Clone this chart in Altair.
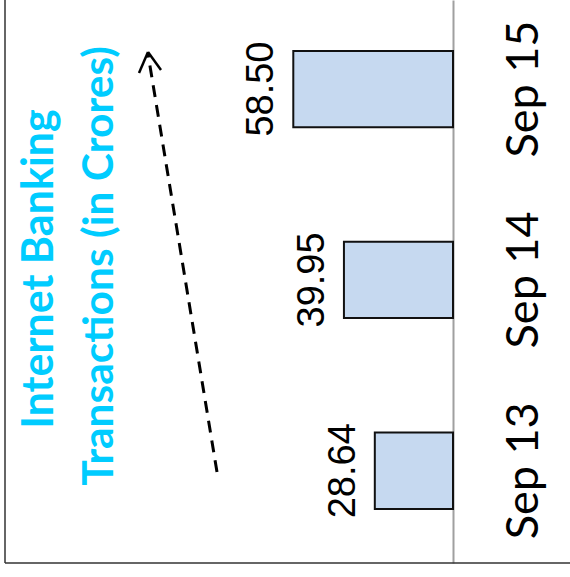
import altair as alt
import pandas as pd

# Internet banking transaction volumes (in crores)
months = ["Sep 13", "Sep 14", "Sep 15"]
transactions = [28.64, 39.95, 58.50]
value_labels = ["28.64", "39.95", "58.50"]
title_lines = ["Internet Banking", "Transactions (in Crores)"]

df = pd.DataFrame({"month": months, "value": transactions, "label": value_labels})

W, H = 448, 563
CYAN = "#00CCFF"

x_scale = alt.Scale(domain=[0, 164.1], reverse=True, nice=False, zero=True)
y_scale = alt.Scale(domain=months[::-1], paddingInner=0.6, paddingOuter=0.275, align=0.485)

base = alt.Chart(df)

bars = base.mark_bar(color="#C6D9F0", stroke="#111111", strokeWidth=2).encode(
    x=alt.X("value:Q", scale=x_scale, axis=None),
    y=alt.Y(
        "month:N",
        scale=y_scale,
        sort=months[::-1],
        axis=alt.Axis(
            orient="right",
            title=None,
            ticks=False,
            grid=False,
            domainColor="#A0A0A0",
            domainWidth=2,
            labelAngle=270,
            labelAlign="center",
            labelBaseline="top",
            labelFont="Lato",
            labelFontSize=45,
            labelColor="#000000",
            labelPadding=48,
        ),
    ),
)

values = base.mark_text(
    angle=270, align="center", baseline="alphabetic", dy=-20,
    font="Liberation Sans", fontSize=38, color="#000000",
).encode(
    x=alt.X("value:Q", scale=x_scale),
    y=alt.Y("month:N", scale=y_scale, sort=months[::-1]),
    text="label:N",
)

one = alt.Data(values=[{}])

# two-line heading, written vertically
heading1 = alt.Chart(one).mark_text(
    text=title_lines[0], angle=270, align="center", baseline="alphabetic",
    font="Lato", fontWeight="bold", fontSize=43, color=CYAN,
).encode(x=alt.value(48), y=alt.value(269))
heading2 = alt.Chart(one).mark_text(
    text=title_lines[1], angle=270, align="center", baseline="alphabetic",
    font="Lato", fontWeight="bold", fontSize=42.5, color=CYAN,
).encode(x=alt.value(108), y=alt.value(266))

# dashed trend arrow
arrow_shaft = alt.Chart(one).mark_rule(
    color="#000000", strokeWidth=3, strokeDash=[12, 8]
).encode(x=alt.value(212), y=alt.value(472), x2=alt.value(143), y2=alt.value(54))
arrow_left = alt.Chart(one).mark_rule(color="#000000", strokeWidth=2.5).encode(
    x=alt.value(134), y=alt.value(73), x2=alt.value(143), y2=alt.value(52)
)
arrow_right = alt.Chart(one).mark_rule(color="#000000", strokeWidth=2.5).encode(
    x=alt.value(156), y=alt.value(70), x2=alt.value(143), y2=alt.value(52)
)

# outer frame edges
frame_left = alt.Chart(one).mark_rule(color="#333333", strokeWidth=1.5).encode(
    x=alt.value(0), y=alt.value(0), y2=alt.value(H)
)
frame_bottom = alt.Chart(one).mark_rule(color="#333333", strokeWidth=1.5).encode(
    x=alt.value(0), x2=alt.value(565), y=alt.value(H)
)

chart = alt.layer(
    bars, values, heading1, heading2, arrow_shaft, arrow_left, arrow_right,
    frame_left, frame_bottom,
).properties(
    width=W,
    height=H,
    autosize=alt.AutoSizeParams(type="none"),
    padding={"left": 5, "top": 0, "right": 117, "bottom": 14},
).configure_view(stroke=None)

chart.save("out.html", embed_options={"renderer": "svg", "actions": False})
